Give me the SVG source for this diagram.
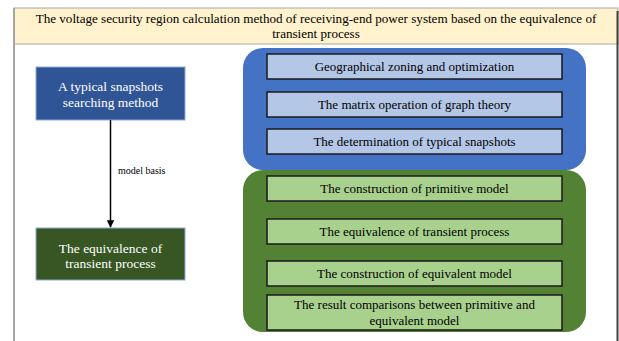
<svg xmlns="http://www.w3.org/2000/svg" width="619" height="341" viewBox="0 0 619 341">
<defs>
<style>
text{font-family:"Liberation Serif","Times New Roman",serif;text-anchor:middle}
.t{font-size:13.1px;fill:#000}
.w{font-size:13.5px;fill:#fff}
.b{font-size:13px;fill:#000}
.lbl{font-size:10px;fill:#000;text-anchor:start}
.ib{fill:#B4C7E7;stroke:#1a1a1a;stroke-width:1.5}
.ig{fill:#A9D18E;stroke:#1a1a1a;stroke-width:1.5}
</style>
<marker id="ah" viewBox="0 0 10 10" refX="9" refY="5" markerWidth="5" markerHeight="5" orient="auto"><path d="M0,0 L10,5 L0,10 z" fill="#000"/></marker>
</defs>
<rect x="0" y="0" width="619" height="341" fill="#fff"/>
<g id="frame">
<rect x="14" y="8" width="604" height="36" fill="#FFF2CC" stroke="#a6a6a6" stroke-width="1"/>
<line x1="14" y1="8" x2="14" y2="341" stroke="#a6a6a6" stroke-width="2"/>
<line x1="617.5" y1="11" x2="617.5" y2="341" stroke="#404040" stroke-width="2"/>
<text class="t" x="316" y="23">The voltage security region calculation method of receiving-end power system based on the equivalence of</text>
<text class="t" x="316" y="38">transient process</text>
</g>
<g id="snapshots">
<rect x="36" y="67" width="149" height="53" fill="#2F5597" stroke="#8FAADC" stroke-width="1"/>
<text class="w" x="110.5" y="90.5">A typical snapshots</text>
<text class="w" x="110.5" y="106.5">searching method</text>
</g>
<g id="equivalence">
<rect x="36" y="228" width="149" height="52" fill="#375623" stroke="#8FAADC" stroke-width="1"/>
<text class="w" x="110.5" y="252.5">The equivalence of</text>
<text class="w" x="110.5" y="267.5">transient process</text>
</g>
<g id="connectors">
<line x1="110.5" y1="120" x2="110.5" y2="227" stroke="#000" stroke-width="1.5" marker-end="url(#ah)"/>
<text class="lbl" x="118" y="174">model basis</text>
</g>
<g id="blue-group">
<rect x="243" y="48" width="343" height="122" rx="20" fill="#4472C4"/>
<g id="geo"><rect class="ib" x="267" y="54" width="295" height="25"/><text class="b" x="414.5" y="71">Geographical zoning and optimization</text></g>
<g id="matrix"><rect class="ib" x="267" y="92" width="295" height="25"/><text class="b" x="414.5" y="109">The matrix operation of graph theory</text></g>
<g id="determination"><rect class="ib" x="267" y="129" width="295" height="25"/><text class="b" x="414.5" y="146">The determination of typical snapshots</text></g>
</g>
<g id="green-group">
<rect x="243" y="170" width="343" height="162" rx="20" fill="#548235"/>
<g id="primitive"><rect class="ig" x="267" y="176" width="295" height="25"/><text class="b" x="414.5" y="193">The construction of primitive model</text></g>
<g id="transient"><rect class="ig" x="267" y="219" width="295" height="25"/><text class="b" x="414.5" y="236">The equivalence of transient process</text></g>
<g id="equivalent"><rect class="ig" x="267" y="261" width="295" height="25"/><text class="b" x="414.5" y="278">The construction of equivalent model</text></g>
<g id="comparison"><rect class="ig" x="267" y="295" width="295" height="35"/><text class="b" x="414.5" y="309">The result comparisons between primitive and</text><text class="b" x="414.5" y="325">equivalent model</text></g>
</g>
</svg>
